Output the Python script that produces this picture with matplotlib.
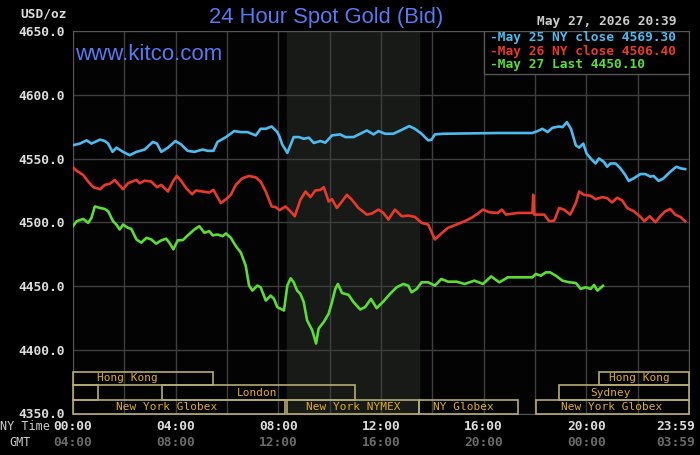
import matplotlib
matplotlib.use("Agg")
import matplotlib.pyplot as plt
import matplotlib.transforms as mtransforms
from matplotlib.patches import Rectangle

# hours after 00:00 NY time, and bid prices
blue_t = [0, 0.27, 0.53, 0.72, 1.05, 1.24, 1.37, 1.54, 1.69, 1.95, 2.21, 2.47, 2.79, 3.11, 3.27,
          3.44, 3.70, 3.99, 4.21, 4.47, 4.73, 5.05, 5.25, 5.47, 5.63, 5.96, 6.28, 6.54, 6.80, 7.12,
          7.31, 7.51, 7.74, 7.96, 8.05, 8.15, 8.35, 8.60, 8.80, 8.99, 9.19, 9.38, 9.64, 9.83, 10.09,
          10.41, 10.61, 10.93, 11.19, 11.45, 11.71, 11.90, 12.16, 12.48, 12.81, 13.10, 13.32, 13.58,
          13.84, 13.97, 14.10, 14.42, 16.55, 17.90, 18.10, 18.29, 18.49, 18.68, 18.94, 19.07, 19.24,
          19.40, 19.59, 19.72, 19.88, 20.01, 20.23, 20.36, 20.49, 20.68, 20.81, 20.94, 21.14, 21.33,
          21.52, 21.65, 21.85, 22.11, 22.30, 22.49, 22.62, 22.82, 23.01, 23.27, 23.50, 23.68, 23.85]
blue_p = [4560.4, 4561.7, 4564.2, 4561.7, 4564.8, 4563.7, 4561.7, 4555.2, 4558.5, 4555.2, 4552.6,
          4555.2, 4557.0, 4563.0, 4561.7, 4555.2, 4558.5, 4563.7, 4561.1, 4556.0, 4555.2, 4557.0,
          4556.0, 4556.0, 4563.0, 4566.8, 4571.5, 4570.7, 4570.7, 4568.1, 4573.3, 4573.3, 4575.1,
          4570.7, 4567.0, 4561.0, 4554.4, 4566.8, 4566.8, 4565.5, 4566.3, 4562.2, 4563.7, 4562.4,
          4568.1, 4568.9, 4566.8, 4566.8, 4569.4, 4572.0, 4568.9, 4571.5, 4569.4, 4569.4, 4572.5,
          4575.4, 4573.3, 4569.4, 4564.2, 4564.8, 4568.9, 4569.4, 4570.0, 4570.0, 4571.5, 4573.3,
          4570.7, 4574.1, 4575.1, 4574.6, 4578.5, 4573.3, 4560.4, 4558.5, 4561.7, 4553.9, 4548.7,
          4546.1, 4550.0, 4547.4, 4543.5, 4546.1, 4546.1, 4542.2, 4537.0, 4532.4, 4534.5, 4537.8,
          4537.8, 4535.8, 4536.3, 4532.4, 4534.5, 4539.6, 4543.5, 4542.2, 4541.7]

red_t = [0, 0.14, 0.40, 0.59, 0.79, 1.05, 1.24, 1.43, 1.63, 1.76, 1.95, 2.14, 2.47, 2.60, 2.79,
         3.05, 3.27, 3.44, 3.70, 3.89, 4.04, 4.21, 4.41, 4.64, 4.79, 5.05, 5.31, 5.47, 5.76, 5.96,
         6.15, 6.34, 6.60, 6.86, 7.12, 7.31, 7.51, 7.74, 7.89, 8.05, 8.28, 8.47, 8.64, 8.86, 9.06,
         9.25, 9.44, 9.64, 9.77, 9.96, 10.09, 10.28, 10.48, 10.67, 10.87, 11.12, 11.45, 11.64, 11.90,
         12.09, 12.29, 12.54, 12.81, 13.06, 13.32, 13.58, 13.84, 14.10, 14.35, 14.61, 14.94, 15.26,
         15.52, 15.77, 15.97, 16.23, 16.55, 16.71, 16.87, 17.33, 17.90, 17.93, 17.97, 18.36, 18.55,
         18.75, 18.94, 19.13, 19.37, 19.59, 19.72, 19.91, 20.17, 20.36, 20.62, 20.81, 21.00, 21.20,
         21.40, 21.59, 21.85, 22.11, 22.26, 22.47, 22.69, 22.88, 23.07, 23.27, 23.46, 23.66, 23.85]
red_p = [4543.0, 4540.4, 4537.0, 4531.9, 4527.5, 4525.9, 4529.3, 4530.1, 4533.2, 4530.1, 4525.9,
         4530.6, 4533.2, 4530.6, 4532.6, 4531.9, 4527.5, 4529.3, 4524.1, 4531.9, 4536.3, 4532.6,
         4526.7, 4522.0, 4524.9, 4524.1, 4523.3, 4525.4, 4515.0, 4518.1, 4521.5, 4529.3, 4534.5,
         4536.3, 4535.2, 4531.9, 4524.1, 4512.4, 4511.9, 4509.5, 4512.4, 4508.6, 4504.7, 4517.6,
         4524.1, 4519.7, 4524.9, 4525.4, 4527.5, 4516.3, 4518.1, 4511.2, 4516.3, 4521.5, 4517.6,
         4511.2, 4506.0, 4506.8, 4509.9, 4507.3, 4502.1, 4509.9, 4504.7, 4505.2, 4504.2, 4499.5,
         4498.2, 4486.5, 4491.2, 4495.6, 4498.2, 4500.8, 4503.4, 4506.8, 4509.9, 4507.8, 4507.3,
         4509.9, 4506.0, 4507.3, 4507.3, 4521.5, 4506.0, 4506.0, 4500.8, 4501.3, 4511.2, 4509.9,
         4506.0, 4515.0, 4524.1, 4521.5, 4520.7, 4518.1, 4519.7, 4518.9, 4515.6, 4519.2, 4517.1,
         4511.2, 4508.6, 4504.2, 4500.8, 4504.7, 4500.0, 4504.7, 4508.6, 4510.4, 4506.0, 4504.2,
         4500.8]

green_t = [0, 0.14, 0.40, 0.59, 0.72, 0.85, 1.05, 1.24, 1.37, 1.56, 1.69, 1.82, 1.95, 2.14, 2.27,
           2.47, 2.66, 2.86, 3.05, 3.24, 3.44, 3.63, 3.76, 3.91, 4.08, 4.28, 4.47, 4.73, 4.92, 5.12,
           5.31, 5.44, 5.63, 5.83, 5.96, 6.15, 6.34, 6.54, 6.73, 6.86, 6.99, 7.18, 7.31, 7.51, 7.70,
           7.83, 7.96, 8.09, 8.22, 8.35, 8.48, 8.60, 8.73, 8.86, 8.99, 9.12, 9.32, 9.47, 9.57, 9.77,
           9.96, 10.09, 10.22, 10.32, 10.48, 10.74, 10.93, 11.19, 11.38, 11.61, 11.83, 12.09, 12.35,
           12.61, 12.87, 13.06, 13.19, 13.39, 13.58, 13.84, 14.10, 14.35, 14.61, 14.94, 15.26, 15.64,
           15.97, 16.29, 16.61, 16.94, 17.90, 18.03, 18.23, 18.42, 18.59, 18.81, 19.07, 19.33, 19.59,
           19.78, 19.97, 20.17, 20.30, 20.43, 20.65]
green_p = [4496.9, 4500.8, 4502.6, 4499.5, 4503.4, 4512.4, 4511.2, 4510.4, 4508.6, 4500.8, 4498.2,
           4494.3, 4498.2, 4495.6, 4494.8, 4486.5, 4484.0, 4487.8, 4486.5, 4483.2, 4485.8, 4487.1,
           4483.8, 4478.8, 4485.8, 4486.0, 4489.7, 4494.3, 4496.9, 4491.7, 4493.0, 4489.7, 4490.4,
           4489.1, 4491.2, 4487.8, 4481.4, 4476.2, 4465.8, 4450.3, 4446.4, 4450.3, 4449.0, 4438.6,
           4442.5, 4439.9, 4433.4, 4432.1, 4430.8, 4450.3, 4456.0, 4452.9, 4446.4, 4443.8, 4437.3,
           4423.1, 4415.3, 4404.9, 4416.6, 4421.8, 4428.3, 4437.3, 4447.7, 4451.6, 4444.5, 4443.0,
           4437.3, 4431.6, 4433.4, 4439.9, 4432.6, 4437.8, 4443.8, 4449.0, 4451.6, 4450.3, 4445.1,
           4447.7, 4452.9, 4452.9, 4450.3, 4455.5, 4453.4, 4453.4, 4451.6, 4454.2, 4451.6, 4457.5,
           4452.9, 4456.8, 4456.8, 4459.4, 4458.1, 4460.7, 4460.7, 4458.1, 4454.2, 4452.9, 4452.4,
           4447.7, 4449.0, 4447.7, 4450.8, 4446.4, 4450.1]

legend_lines = ["May 25 NY close 4569.30", "May 26 NY close 4506.40", "May 27 Last 4450.10"]
ny_ticks = ["00:00", "04:00", "08:00", "12:00", "16:00", "20:00", "23:59"]
gmt_ticks = ["04:00", "08:00", "12:00", "16:00", "20:00", "00:00", "03:59"]
tick_hours = [0, 4, 8, 12, 16, 20, 24]
y_ticks = [4350, 4400, 4450, 4500, 4550, 4600, 4650]

# (label, start hour, end hour, row, label hour) row 0 = bottom
sessions = [("Hong Kong", 0, 5.47, 2, 2.1), ("Hong Kong", 20.5, 24, 2, 22.05),
            ("", 0, 0.97, 1, 0), ("London", 3.47, 11.0, 1, 7.17), ("Sydney", 18.93, 24, 1, 20.96),
            ("New York Globex", 0, 8.25, 0, 3.66), ("New York NYMEX", 8.33, 13.5, 0, 10.9),
            ("NY Globex", 13.5, 17.33, 0, 15.2), ("New York Globex", 18.05, 24, 0, 21.0)]

mono = "DejaVu Sans Mono"
colors = ["#4dbbee", "#e83a2a", "#5cdc34"]

fig = plt.figure(figsize=(7, 4.55), dpi=100, facecolor="black")
ax = fig.add_axes([73/700, 1 - 413.5/455, 616/700, 382.5/455])
ax.set_facecolor("#030303")
ax.set_xlim(0, 24)
ax.set_ylim(4350, 4650)

ax.axvspan(8.33, 13.5, color="#171a17", zorder=0)
ax.set_xticks(range(0, 25, 2))
ax.set_yticks(y_ticks)
ax.grid(True, color="#3e3e3e", lw=1, zorder=1)
ax.set_axisbelow(True)
ax.tick_params(length=0, labelbottom=False, colors="#dddddd", pad=6)
ax.set_yticklabels([f"{v:.1f}" for v in y_ticks], family=mono, fontsize=9.3, weight="bold", color="#dddddd")
for s in ax.spines.values():
    s.set_color("#555555")

ax.plot(blue_t, blue_p, color=colors[0], lw=1.9, zorder=3)
ax.plot(red_t, red_p, color=colors[1], lw=1.9, zorder=3)
ax.plot(green_t, green_p, color=colors[2], lw=1.9, zorder=3)

# session bars
row_y = [0, 0.0353, 0.0745, 0.109]
bt = mtransforms.blended_transform_factory(ax.transData, ax.transAxes)
for name, t0, t1, row, tl in sessions:
    ax.add_patch(Rectangle((t0, row_y[row]), t1 - t0, row_y[row+1] - row_y[row], transform=bt,
                           fill=False, edgecolor="#b4ac70", lw=1.2, zorder=4, clip_on=False))
    if name:
        ax.text(tl, (row_y[row] + row_y[row+1]) / 2, name, transform=bt, ha="center",
                va="center", family=mono, fontsize=8, color="#dcae22", zorder=5)

# legend box
ax.add_patch(Rectangle((16, 0.887), 8, 0.113, transform=bt, facecolor="black",
                       edgecolor="#555555", lw=1, zorder=6))
for i, (txt, c) in enumerate(zip(legend_lines, colors)):
    fig.text(490/700, 1 - (38 + 13.5*i)/455, "-" + txt, color=c, family=mono, fontsize=9.3,
             weight="bold", va="center", ha="left", zorder=7)

# x labels
ft = mtransforms.blended_transform_factory(ax.transData, fig.transFigure)
for h, a, b in zip(tick_hours[:-1], ny_ticks[:-1], gmt_ticks[:-1]):
    fig.text(h, 1 - 427/455, a, transform=ft, ha="center", va="center", family=mono,
             fontsize=9.3, weight="bold", color="#dddddd")
    fig.text(h, 1 - 442/455, b, transform=ft, ha="center", va="center", family=mono,
             fontsize=9.3, weight="bold", color="#6a6a6a")
fig.text(695/700, 1 - 427/455, ny_ticks[-1], ha="right", va="center", family=mono,
         fontsize=9.3, weight="bold", color="#dddddd")
fig.text(695/700, 1 - 442/455, gmt_ticks[-1], ha="right", va="center", family=mono,
         fontsize=9.3, weight="bold", color="#6a6a6a")
fig.text(25/700, 1 - 427/455, "NY Time", ha="center", va="center", family=mono, fontsize=8.5, color="#cccccc")
fig.text(20/700, 1 - 442/455, "GMT", ha="center", va="center", family=mono, fontsize=8.5, color="#cccccc")

fig.text(44/700, 1 - 14/455, "USD/oz", ha="center", va="center", family=mono, fontsize=9.3,
         weight="bold", color="#dddddd")
fig.text(607/700, 1 - 22/455, "May 27, 2026 20:39", ha="center", va="center", family=mono,
         fontsize=9.3, weight="bold", color="#cccccc")
fig.text(326/700, 1 - 17/455, "24 Hour Spot Gold (Bid)", ha="center", va="center",
         family="Liberation Sans", fontsize=15.8, color="#5a78f0")
fig.text(75/700, 1 - 54/455, "www.kitco.com", ha="left", va="center",
         family="Liberation Sans", fontsize=16, color="#5a78f0")

fig.savefig("out.png", dpi=100, facecolor="black")
